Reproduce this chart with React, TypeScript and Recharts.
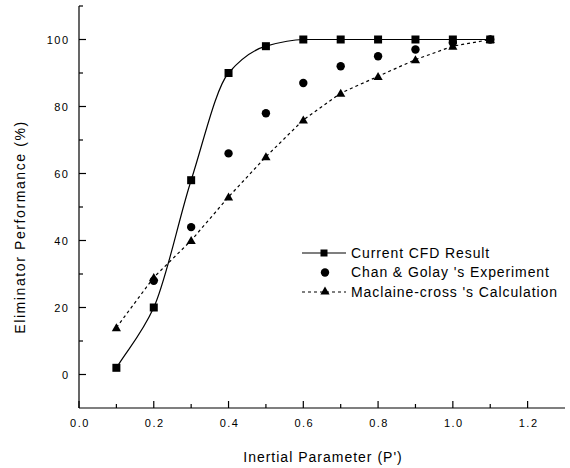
import React from 'react';
import { ComposedChart, Line, Scatter, XAxis, YAxis } from 'recharts';

const pValues = [0.1, 0.2, 0.3, 0.4, 0.5, 0.6, 0.7, 0.8, 0.9, 1.0, 1.1];
const cfdResult = [2, 20, 58, 90, 98, 100, 100, 100, 100, 100, 100];
const chanGolayExp = [null, 28, 44, 66, 78, 87, 92, 95, 97, 99, 100];
const maclaineCalc = [14, 29, 40, 53, 65, 76, 84, 89, 94, 98, 100];

const xTicks = [0, 0.1, 0.2, 0.3, 0.4, 0.5, 0.6, 0.7, 0.8, 0.9, 1.0, 1.1, 1.2, 1.3];
const yTicks = [-10, 0, 10, 20, 30, 40, 50, 60, 70, 80, 90, 100, 110];

const seriesNames = ['Current CFD Result', "Chan & Golay 's Experiment", "Maclaine-cross 's Calculation"];

const toPoints = (vals: Array<number | null>) =>
  pValues
    .map((p, i) => ({ p, v: vals[i] }))
    .filter((d) => d.v !== null);

const cfdData = toPoints(cfdResult);
const chanData = toPoints(chanGolayExp);
const maclaineData = toPoints(maclaineCalc);

const FONT = '"Liberation Sans", Arial, sans-serif';
const INK = '#000';

// monotone cubic with secant slopes at the ends (d3's monotone flattens the first segment)
const smoothCurve = (context: any) => {
  let xs: number[] = [];
  let ys: number[] = [];
  return {
    areaStart() {},
    areaEnd() {},
    lineStart() {
      xs = [];
      ys = [];
    },
    point(x: number, y: number) {
      xs.push(+x);
      ys.push(+y);
    },
    lineEnd() {
      const n = xs.length;
      if (!n) return;
      context.moveTo(xs[0], ys[0]);
      if (n === 1) return;
      const d: number[] = [];
      for (let i = 0; i < n - 1; i++) d.push((ys[i + 1] - ys[i]) / (xs[i + 1] - xs[i]));
      const m: number[] = new Array(n);
      m[0] = d[0];
      m[n - 1] = d[n - 2];
      for (let i = 1; i < n - 1; i++) {
        m[i] = d[i - 1] * d[i] <= 0 ? 0 : 2 / (1 / d[i - 1] + 1 / d[i]);
      }
      for (let i = 0; i < n - 1; i++) {
        const h = xs[i + 1] - xs[i];
        context.bezierCurveTo(
          xs[i] + h / 3,
          ys[i] + (m[i] * h) / 3,
          xs[i + 1] - h / 3,
          ys[i + 1] - (m[i + 1] * h) / 3,
          xs[i + 1],
          ys[i + 1],
        );
      }
    },
  };
};

const Square = ({ cx, cy, size = 8 }: any) => (
  <rect x={cx - size / 2} y={cy - size / 2} width={size} height={size} fill={INK} />
);
const Circle = ({ cx, cy }: any) => <circle cx={cx} cy={cy} r={4.2} fill={INK} />;
const Triangle = ({ cx, cy }: any) => (
  <polygon points={`${cx - 4.6},${cy + 3.6} ${cx + 4.6},${cy + 3.6} ${cx},${cy - 4.4}`} fill={INK} />
);

const XTick = ({ x, y, payload }: any) => {
  const v = payload.value;
  const major = Math.round(v * 10) % 2 === 0 && v < 1.25;
  if (v >= 1.29) return <g />;
  return (
    <g>
      <line x1={x} x2={x} y1={y} y2={y - (major ? 7 : 4)} stroke={INK} strokeWidth={1.2} />
      {major && (
        <text x={x + 1} y={y + 19} textAnchor="middle" fontSize={11} letterSpacing={1.5} fontFamily={FONT} fill={INK}>
          {v.toFixed(1)}
        </text>
      )}
    </g>
  );
};

const YTick = ({ x, y, payload }: any) => {
  const v = payload.value;
  if (v < 0) return <g />;
  const major = v % 20 === 0 && v <= 100;
  return (
    <g>
      <line x1={x} x2={x + (major ? 7 : 4)} y1={y} y2={y} stroke={INK} strokeWidth={1.2} />
      {major && (
        <text x={x - 9.5} y={y + 4.5} textAnchor="end" fontSize={11} letterSpacing={1.5} fontFamily={FONT} fill={INK}>
          {v}
        </text>
      )}
    </g>
  );
};

const Overlay = () => (
  <svg width={570} height={468} style={{ position: 'absolute', left: 0, top: 0, pointerEvents: 'none' }}>
    <g fontFamily={FONT} fontSize={14} letterSpacing={0.9} fill={INK}>
      <line x1={302} x2={346} y1={253} y2={253} stroke={INK} strokeWidth={1.2} />
      <Square cx={324} cy={253} size={7} />
      <text x={351} y={257.5}>{seriesNames[0]}</text>
      <Circle cx={325} cy={272.5} />
      <text x={351} y={277}>{seriesNames[1]}</text>
      <line x1={302} x2={346} y1={292} y2={292} stroke={INK} strokeWidth={1.2} strokeDasharray="3 3" />
      <Triangle cx={325} cy={291} />
      <text x={351} y={296.5}>{seriesNames[2]}</text>
    </g>
    <text
      x={25}
      y={227}
      transform="rotate(-90 25 227)"
      textAnchor="middle"
      fontFamily={FONT}
      fontSize={14}
      letterSpacing={1.6}
      fill={INK}
    >
      Eliminator Performance (%)
    </text>
    <text x={323} y={462} textAnchor="middle" fontFamily={FONT} fontSize={14} letterSpacing={1} fill={INK}>
      Inertial Parameter (P')
    </text>
  </svg>
);

export default function App() {
  return (
    <div style={{ position: 'absolute', left: 0, top: 0, width: 570, height: 468, background: '#fff' }}>
      <ComposedChart width={570} height={468} margin={{ top: 6, right: 5, left: 0, bottom: 0 }}>
        <XAxis
          dataKey="p"
          type="number"
          domain={[0, 1.3]}
          ticks={xTicks}
          interval={0}
          tickSize={0}
          tickMargin={0}
          tickLine={false}
          tick={<XTick />}
          height={60}
          axisLine={{ stroke: INK, strokeWidth: 1.2 }}
          allowDuplicatedCategory={false}
        />
        <YAxis
          dataKey="v"
          type="number"
          domain={[-10, 110]}
          ticks={yTicks}
          interval={0}
          tickSize={0}
          tickMargin={0}
          tickLine={false}
          tick={<YTick />}
          width={79}
          axisLine={{ stroke: INK, strokeWidth: 1.2 }}
        />
        <Line
          data={cfdData}
          dataKey="v"
          type={smoothCurve as any}
          stroke={INK}
          strokeWidth={1.2}
          dot={(props: any) => <Square key={`sq-${props.index}`} cx={props.cx} cy={props.cy} />}
          isAnimationActive={false}
        />
        <Line
          data={maclaineData}
          dataKey="v"
          type="linear"
          stroke={INK}
          strokeWidth={1.2}
          strokeDasharray="3 3"
          dot={(props: any) => <Triangle key={`tr-${props.index}`} cx={props.cx} cy={props.cy} />}
          isAnimationActive={false}
        />
        <Scatter data={chanData} dataKey="v" shape={<Circle />} isAnimationActive={false} />
      </ComposedChart>
      <Overlay />
    </div>
  );
}
